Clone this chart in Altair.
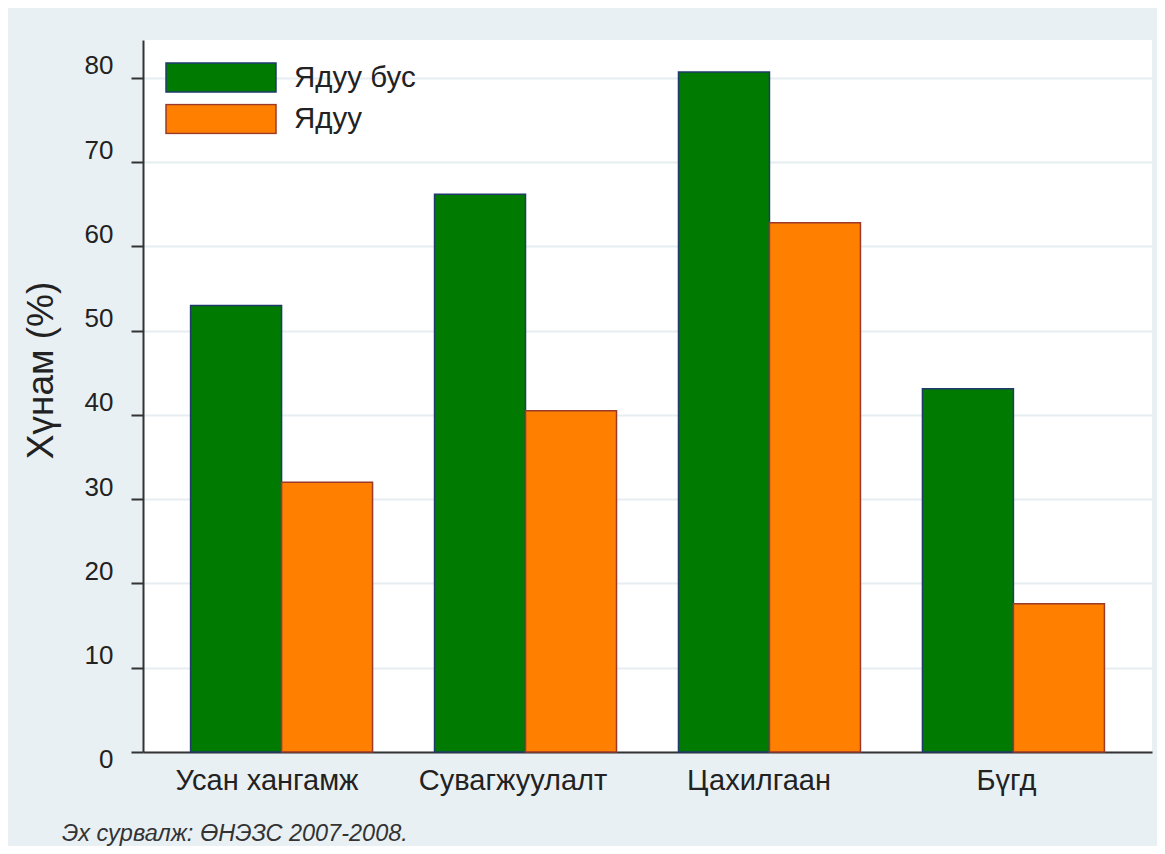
import altair as alt
import pandas as pd

categories = ["Усан хангамж", "Сувагжуулалт", "Цахилгаан", "Бүгд"]
series = ["Ядуу бус", "Ядуу"]
non_poor = [53.0, 66.2, 80.7, 43.1]
poor = [32.0, 40.5, 62.8, 17.6]
y_ticks = [0, 10, 20, 30, 40, 50, 60, 70, 80]
y_title = "Хүнам (%)"
source_note = "Эх сурвалж: ӨНЭЗС 2007-2008."

fill_colors = ["#007a00", "#ff7f00"]
stroke_colors = ["#1f3b6b", "#9a3a2a"]
# small horizontal nudges of the category labels, as in the original
label_nudge = [-14.5, -12.5, -10.5, -7]

rows = []
for c, a, b in zip(categories, non_poor, poor):
    rows.append({"cat": c, "series": series[0], "value": a})
    rows.append({"cat": c, "series": series[1], "value": b})
df = pd.DataFrame(rows)

FONT = "Liberation Sans"

legend = alt.Legend(
    title=None,
    orient="none",
    legendX=22,
    legendY=22,
    padding=0,
    symbolType="M-1,-0.2636H1V0.2636H-1Z",
    symbolSize=12100,
    symbolStrokeWidth=1.5,
    clipHeight=31,
    labelFont=FONT,
    labelFontSize=29.5,
    labelColor="#222",
    labelOffset=17,
    rowPadding=10.5,
)

x_label_offset = {
    "condition": [
        {"test": f"datum.value == '{c}'", "value": n}
        for c, n in zip(categories, label_nudge)
    ],
    "value": 0,
}

bars = alt.Chart(df).mark_bar(strokeWidth=1.5).encode(
    x=alt.X(
        "cat:N",
        sort=categories,
        scale=alt.Scale(paddingInner=0.254, paddingOuter=0.195),
        axis=alt.Axis(
            title=None,
            labelAngle=0,
            ticks=False,
            domain=True,
            domainColor="#333",
            domainWidth=2,
            labelFont=FONT,
            labelFontSize=29,
            labelColor="#222",
            labelPadding=14,
            labelLimit=0,
            labelOffset=x_label_offset,
            grid=False,
        ),
    ),
    xOffset=alt.XOffset(
        "series:N", sort=series, scale=alt.Scale(paddingInner=0, paddingOuter=0)
    ),
    y=alt.Y(
        "value:Q",
        scale=alt.Scale(domain=[0, 84.5], nice=False, zero=True),
        axis=alt.Axis(
            values=y_ticks,
            title=y_title,
            titleFont=FONT,
            titleFontSize=37,
            titleFontWeight="normal",
            titleColor="#222",
            titleX=-102,
            titleY=330,
            titleAngle=270,
            titleAlign="center",
            titleBaseline="middle",
            domainColor="#333",
            domainWidth=2,
            tickColor="#333",
            tickWidth=2,
            tickSize=12,
            labelFont=FONT,
            labelFontSize=26,
            labelColor="#222",
            labelPadding=18,
            labelBaseline="alphabetic",
            labelOffset={"condition": {"test": "datum.value == 0", "value": 15}, "value": -4},
            grid=True,
            gridColor="#e6eef2",
            gridWidth=2,
        ),
    ),
    color=alt.Color(
        "series:N",
        sort=series,
        scale=alt.Scale(domain=series, range=fill_colors),
        legend=legend,
    ),
    stroke=alt.Stroke(
        "series:N",
        sort=series,
        scale=alt.Scale(domain=series, range=stroke_colors),
        legend=legend,
    ),
)

chart = (
    bars.properties(
        width=1009,
        height=712,
        autosize=alt.AutoSizeParams(type="none"),
        padding={"left": 135, "top": 32, "right": 5, "bottom": 94},
        title=alt.TitleParams(
            source_note,
            orient="bottom",
            anchor="start",
            frame="group",
            dx=-81,
            offset=27,
            font=FONT,
            fontSize=23.5,
            fontStyle="italic",
            fontWeight="normal",
            color="#333",
        ),
    )
    .configure(background="#e8f0f3")
    .configure_view(fill="white", strokeWidth=0)
)

chart.save("out.html", embed_options={"renderer": "svg", "actions": False})
